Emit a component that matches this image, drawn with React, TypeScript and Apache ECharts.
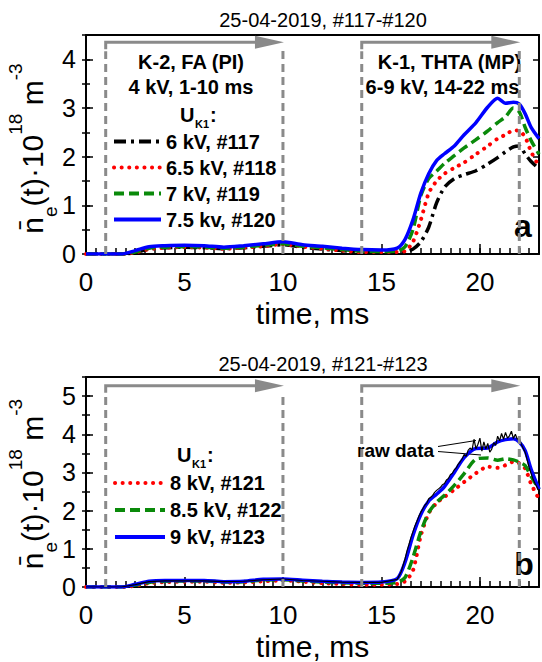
import React, { useEffect, useRef } from "react";
import * as echarts from "echarts";

const FONT = "'Liberation Sans', Arial, Helvetica, sans-serif";
const GRAY = "#8a8a8a";

// ---------- data ----------
const titleA = "25-04-2019, #117-#120";
const titleB = "25-04-2019, #121-#123";
const xTickLabels = [0, 5, 10, 15, 20];
const yTicksA = [0, 1, 2, 3, 4];
const yTicksB = [0, 1, 2, 3, 4, 5];

const namesA = ["6 kV, #117", "6.5 kV, #118", "7 kV, #119", "7.5 kv, #120"];
const namesB = ["8 kV, #121", "8.5 kV, #122", "9 kV, #123"];

// time (ms)
const tGrid = [0, 1.8, 2.5, 3.2, 4, 5, 6, 7, 8, 9, 10, 11, 12, 13, 14, 15, 15.8, 16.2, 16.6, 17.0, 17.4, 17.8, 18.2, 18.7, 19.2, 19.8, 20.4, 20.9, 21.3, 21.7, 22.0, 22.3, 22.6, 23.0];

// panel a  (10^18 m^-3)
const n117 = [0, 0, 0.03, 0.1, 0.13, 0.14, 0.13, 0.11, 0.13, 0.16, 0.19, 0.14, 0.1, 0.07, 0.04, 0.03, 0.03, 0.04, 0.1, 0.25, 0.55, 1.05, 1.37, 1.55, 1.63, 1.71, 1.85, 1.98, 2.1, 2.2, 2.22, 2.05, 1.9, 1.75];
const n118 = [0, 0, 0.03, 0.1, 0.13, 0.14, 0.13, 0.11, 0.13, 0.16, 0.2, 0.15, 0.11, 0.07, 0.04, 0.04, 0.04, 0.06, 0.25, 0.7, 1.25, 1.5, 1.65, 1.77, 1.88, 2.05, 2.22, 2.37, 2.45, 2.54, 2.53, 2.4, 2.1, 1.8];
const n119 = [0, 0, 0.04, 0.12, 0.14, 0.15, 0.14, 0.12, 0.14, 0.18, 0.21, 0.16, 0.13, 0.09, 0.06, 0.05, 0.06, 0.15, 0.5, 1.2, 1.55, 1.7, 1.86, 2.02, 2.18, 2.35, 2.53, 2.7, 2.82, 3.0, 2.92, 2.6, 2.33, 2.05];
const n120 = [0, 0, 0.07, 0.15, 0.17, 0.18, 0.17, 0.14, 0.17, 0.21, 0.25, 0.19, 0.16, 0.12, 0.09, 0.08, 0.12, 0.3, 0.7, 1.25, 1.65, 1.92, 2.06, 2.22, 2.45, 2.7, 3.02, 3.2, 3.1, 3.12, 3.08, 2.88, 2.6, 2.37];

// panel b
const n121 = [0, 0, 0.03, 0.1, 0.13, 0.14, 0.14, 0.11, 0.12, 0.15, 0.17, 0.14, 0.1, 0.08, 0.06, 0.06, 0.08, 0.15, 0.43, 1.35, 1.93, 2.2, 2.36, 2.55, 2.75, 2.98, 3.15, 3.12, 3.19, 3.28, 3.24, 3.1, 2.7, 2.3];
const n122 = [0, 0, 0.05, 0.12, 0.15, 0.16, 0.16, 0.13, 0.14, 0.18, 0.19, 0.16, 0.13, 0.11, 0.1, 0.1, 0.12, 0.25, 0.77, 1.45, 1.95, 2.22, 2.4, 2.66, 2.97, 3.35, 3.38, 3.32, 3.36, 3.33, 3.27, 3.18, 2.9, 2.56];
const n123 = [0, 0, 0.07, 0.15, 0.17, 0.17, 0.17, 0.14, 0.15, 0.2, 0.21, 0.18, 0.15, 0.13, 0.12, 0.13, 0.22, 0.65, 1.35, 1.9, 2.25, 2.43, 2.63, 3.0, 3.39, 3.63, 3.64, 3.8, 3.86, 3.88, 3.8, 3.57, 3.08, 2.56];

// raw data of #123
const tRaw = [0, 1.8, 2.5, 3.2, 4, 5, 6, 7, 8, 9, 10, 11, 12, 13, 14, 15, 15.8,
  16.0, 16.1, 16.2, 16.3, 16.4, 16.5, 16.6, 16.7, 16.8, 16.9,
  17.0, 17.1, 17.2, 17.3, 17.4, 17.5, 17.6, 17.7, 17.8, 17.9,
  18.0, 18.1, 18.2, 18.3, 18.4, 18.5, 18.6, 18.7, 18.8, 18.9,
  19.0, 19.1, 19.2, 19.3, 19.4, 19.5, 19.6, 19.7, 19.8, 19.9,
  20.0, 20.1, 20.2, 20.3, 20.4, 20.5, 20.6, 20.7, 20.8, 20.9,
  21.0, 21.1, 21.2, 21.3, 21.4, 21.5, 21.6, 21.7, 21.8, 21.9,
  22.0, 22.1, 22.2, 22.3, 22.4, 22.5, 22.6, 22.7, 22.8, 22.9, 23.0];
const nRaw = [0, 0, 0.06, 0.14, 0.16, 0.16, 0.16, 0.14, 0.15, 0.19, 0.21, 0.17, 0.15, 0.13, 0.12, 0.12, 0.2,
  0.4, 0.57, 0.74, 0.95, 1.12, 1.3, 1.45, 1.6, 1.72, 1.85,
  1.96, 2.05, 2.14, 2.19, 2.31, 2.35, 2.4, 2.48, 2.53, 2.57,
  2.61, 2.68, 2.71, 2.8, 2.84, 2.94, 2.98, 3.07, 3.12, 3.22,
  3.28, 3.36, 3.47, 3.42, 3.58, 3.64, 3.59, 3.87, 3.62, 3.74,
  3.9, 3.56, 3.8, 3.62, 3.76, 3.53, 3.61, 3.78, 3.71, 3.95,
  3.83, 4.02, 3.87, 4.05, 3.9, 3.96, 4.08, 3.89, 4.0, 3.87,
  3.9, 3.74, 3.63, 3.52, 3.33, 3.13, 2.97, 2.82, 2.71, 2.61, 2.51];

// capacitor discharge windows (ms)
const pulseSpans = [[1, 10], [14, 22]];

// ---------- helpers ----------
const pairs = (t: number[], v: number[]) => t.map((x, i) => [x, v[i]]);

function xAxesFor(g: number) {
  const common: any = { type: "value", gridIndex: g, min: 0, max: 23, splitLine: { show: false } };
  return [
    {
      ...common, position: "bottom", interval: 5,
      axisLine: { onZero: false, lineStyle: { color: "#000", width: 2 } },
      axisTick: { inside: true, length: 10, lineStyle: { color: "#000", width: 1.5 } },
      axisLabel: {
        margin: 15, fontSize: 26, fontFamily: FONT, color: "#000",
        formatter: (v: number) => (xTickLabels.includes(v) ? String(v) : ""),
      },
      name: "time, ms", nameLocation: "middle", nameGap: 44,
      nameTextStyle: { fontSize: 30, fontFamily: FONT, color: "#000" },
    },
    {
      ...common, position: "bottom", interval: 0.5,
      axisLine: { show: false }, axisLabel: { show: false },
      axisTick: { inside: true, length: 6, lineStyle: { color: "#000", width: 1.5 } },
    },
    {
      ...common, position: "top",
      axisLine: { onZero: false, lineStyle: { color: "#000", width: 2 } },
      axisTick: { show: false }, axisLabel: { show: false },
    },
  ];
}

function yAxesFor(g: number, max: number, ticks: number[]) {
  const common: any = { type: "value", gridIndex: g, min: 0, max, splitLine: { show: false } };
  const tick = (len: number) => ({ inside: true, length: len, lineStyle: { color: "#000", width: 1.5 } });
  return [
    {
      ...common, position: "left", interval: 1,
      axisLine: { onZero: false, lineStyle: { color: "#000", width: 2 } },
      axisTick: tick(7),
      axisLabel: {
        margin: 10, fontSize: 25, fontFamily: FONT, color: "#000",
        formatter: (v: number) => (ticks.includes(v) ? String(v) : ""),
      },
    },
    { ...common, position: "left", interval: 0.5, axisLine: { show: false }, axisLabel: { show: false }, axisTick: tick(4) },
    {
      ...common, position: "right", interval: 1,
      axisLine: { onZero: false, lineStyle: { color: "#000", width: 2 } },
      axisLabel: { show: false }, axisTick: tick(6),
    },
    { ...common, position: "right", interval: 0.5, axisLine: { show: false }, axisLabel: { show: false }, axisTick: tick(4) },
  ];
}

function pulseSeries(xi: number, yi: number, arrowY: number) {
  return {
    type: "custom", xAxisIndex: xi, yAxisIndex: yi, z: 10, silent: true, clip: false,
    data: pulseSpans, encode: { x: [0, 1] },
    renderItem: (_p: any, api: any) => {
      const x0 = api.value(0), x1 = api.value(1);
      const b0 = api.coord([x0, 0]), t0 = api.coord([x0, arrowY]);
      const b1 = api.coord([x1, 0]), t1 = api.coord([x1, arrowY]);
      const dash = { stroke: GRAY, lineWidth: 3, lineDash: [8, 5], fill: null };
      return {
        type: "group",
        children: [
          { type: "line", shape: { x1: b0[0], y1: b0[1], x2: t0[0], y2: t0[1] + 9 }, style: dash },
          { type: "line", shape: { x1: b1[0], y1: b1[1], x2: t1[0], y2: t1[1] + 8 }, style: dash },
          {
            type: "polyline",
            shape: { points: [[t0[0], t0[1] + 7], [t0[0], t0[1]], [t1[0] - 24, t1[1]]] },
            style: { stroke: GRAY, lineWidth: 3, fill: null },
          },
          {
            type: "polygon",
            shape: { points: [[t1[0] - 28, t1[1] - 6.5], [t1[0] + 1, t1[1]], [t1[0] - 28, t1[1] + 6.5]] },
            style: { fill: GRAY },
          },
        ],
      };
    },
  };
}

const styleBlack = { color: "#000", width: 3.5, type: [12, 5, 3, 5] };
const styleRed = { color: "#ff0000", width: 4, type: [0.1, 7.5], cap: "round" };
const styleGreen = { color: "#0a8a0a", width: 3.5, type: [10, 5] };
const styleBlue = { color: "#0000ff", width: 3.5, type: "solid" };

function lineSeries(name: string, t: number[], v: number[], xi: number, yi: number, ls: any) {
  return {
    name, type: "line", xAxisIndex: xi, yAxisIndex: yi, data: pairs(t, v),
    symbol: "none", smooth: 0.25, lineStyle: ls, itemStyle: { color: ls.color }, silent: true,
  };
}

function yName(x: number, y: number) {
  return {
    type: "text", x, y, rotation: Math.PI / 2, silent: true,
    style: {
      text: "{m|n\u0304}{e|e}{m|(t)\u00b710}{s|18}{m| m}{s|-3}",
      align: "center", verticalAlign: "middle", fill: "#000",
      rich: {
        m: { fontSize: 30, fontFamily: FONT, lineHeight: 54, verticalAlign: "middle", fill: "#000" },
        e: { fontSize: 19, fontFamily: FONT, lineHeight: 20, verticalAlign: "bottom", fill: "#000" },
        s: { fontSize: 19, fontFamily: FONT, lineHeight: 34, verticalAlign: "top", fill: "#000" },
      },
    },
  };
}

function txt(text: string, x: number, y: number, size: number, bold: boolean, align = "center") {
  return {
    type: "text", x, y, silent: true,
    style: {
      text, fontSize: size, fontWeight: bold ? "bold" : "normal", fontFamily: FONT,
      fill: "#000", align, verticalAlign: "middle",
    },
  };
}

function uk1(x: number, y: number) {
  return [
    txt("U", x, y, 20, true, "left"),
    txt("K1", x + 15, y + 9, 11, true, "left"),
    txt(":", x + 30, y, 20, true, "left"),
  ];
}

function buildOption(): any {
  const legendText = (lh: number) => ({ fontSize: 20, fontWeight: "bold", fontFamily: FONT, color: "#000", lineHeight: lh });
  return {
    animation: false,
    backgroundColor: "#fff",
    grid: [
      { left: 86, top: 35, width: 457, height: 219 },
      { left: 86, top: 377, width: 457, height: 213 },
    ],
    xAxis: [...xAxesFor(0), ...xAxesFor(1)],
    yAxis: [...yAxesFor(0, 4.5, yTicksA), ...yAxesFor(1, 5.5, yTicksB)],
    legend: [
      {
        orient: "vertical", left: 112, top: 128.5, padding: 0, itemGap: 0,
        itemWidth: 47, itemHeight: 14, selectedMode: false,
        itemStyle: { opacity: 0 }, lineStyle: { width: 4 },
        data: namesA, textStyle: legendText(26),
      },
      {
        orient: "vertical", left: 113, top: 469.5, padding: 0, itemGap: 0,
        itemWidth: 50, itemHeight: 14, selectedMode: false,
        itemStyle: { opacity: 0 }, lineStyle: { width: 4 },
        data: namesB, textStyle: legendText(27),
      },
    ],
    series: [
      lineSeries(namesA[0], tGrid, n117, 0, 0, styleBlack),
      lineSeries(namesA[1], tGrid, n118, 0, 0, styleRed),
      lineSeries(namesA[2], tGrid, n119, 0, 0, styleGreen),
      lineSeries(namesA[3], tGrid, n120, 0, 0, styleBlue),
      pulseSeries(0, 0, 4.35),
      lineSeries(namesB[0], tGrid, n121, 3, 4, styleRed),
      lineSeries(namesB[1], tGrid, n122, 3, 4, styleGreen),
      lineSeries(namesB[2], tGrid, n123, 3, 4, styleBlue),
      {
        name: "raw data", type: "line", xAxisIndex: 3, yAxisIndex: 4, data: pairs(tRaw, nRaw),
        symbol: "none", lineStyle: { color: "#000", width: 1.2 }, itemStyle: { color: "#000" }, silent: true, z: 4,
      },
      pulseSeries(3, 4, 5.27),
    ],
    graphic: [
      txt(titleA, 323, 20, 20, false),
      txt(titleB, 323, 363.5, 20, false),
      txt("K-2, FA (PI)", 191, 62, 20, true),
      txt("4 kV, 1-10 ms", 191, 86.5, 20, true),
      txt("K-1, THTA (MP)", 449.5, 62, 20, true),
      txt("6-9 kV, 14-22 ms", 442.5, 86.5, 20, true),
      ...uk1(180, 114.5),
      ...uk1(177, 455),
      txt("a", 523, 226, 32, true),
      txt("b", 524, 564, 32, true),
      txt("raw data", 357, 450, 19, true, "left"),
      { type: "line", silent: true, shape: { x1: 438, y1: 446.5, x2: 476, y2: 440.5 }, style: { stroke: "#000", lineWidth: 1 } },
      { type: "line", silent: true, shape: { x1: 438, y1: 451.5, x2: 481, y2: 455 }, style: { stroke: "#000", lineWidth: 1 } },
      yName(32.6, 148.5),
      yName(32.6, 484),
    ],
  };
}

export default function App() {
  const ref = useRef<HTMLDivElement>(null);
  useEffect(() => {
    if (!ref.current) return;
    const chart = echarts.init(ref.current, undefined, { renderer: "svg" });
    chart.setOption(buildOption());
    return () => chart.dispose();
  }, []);
  return (
    <div
      ref={ref}
      style={{ position: "absolute", left: 0, top: 0, width: 542, height: 662, background: "#fff" }}
    />
  );
}
